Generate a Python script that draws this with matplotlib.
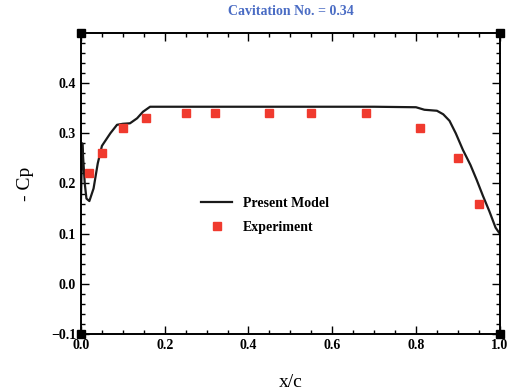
import matplotlib.pyplot as plt
from matplotlib.ticker import MultipleLocator

# Experiment points
exp_x = [0.02, 0.05, 0.10, 0.155, 0.25, 0.32, 0.45, 0.55, 0.68, 0.81, 0.90, 0.95]
exp_cp = [0.22, 0.26, 0.31, 0.33, 0.34, 0.34, 0.34, 0.34, 0.34, 0.31, 0.25, 0.16]

# Present model curve
model_x = [0.0, 0.003, 0.006, 0.009, 0.013, 0.02, 0.03, 0.04, 0.05, 0.07, 0.086,
           0.10, 0.117, 0.134, 0.148, 0.165, 0.30, 0.50, 0.70, 0.80, 0.82,
           0.85, 0.865, 0.88, 0.895, 0.912, 0.93, 0.945, 0.96, 0.975, 0.99, 1.0]
model_cp = [0.17, 0.28, 0.24, 0.20, 0.17, 0.165, 0.19, 0.24, 0.275, 0.30, 0.317,
            0.319, 0.32, 0.33, 0.343, 0.353, 0.353, 0.353, 0.353, 0.352, 0.347,
            0.345, 0.338, 0.325, 0.30, 0.267, 0.237, 0.207, 0.175, 0.145, 0.112, 0.10]

plt.rcParams["font.family"] = ["Liberation Serif", "DejaVu Serif"]
plt.rcParams["font.weight"] = "bold"

fig = plt.figure(figsize=(5.11, 3.91), dpi=100)
ax = fig.add_axes([0.1585, 0.1458, 0.8195, 0.7698])

ax.plot(model_x, model_cp, color="#1a1a1a", linewidth=1.6, label="Present Model")
ax.plot(exp_x, exp_cp, linestyle="none", marker="s", markersize=6,
        color="#f03a2e", label="Experiment")

ax.set_xlim(0.0, 1.0)
ax.set_ylim(-0.1, 0.5)
ax.set_xticks([0.0, 0.2, 0.4, 0.6, 0.8, 1.0])
ax.set_yticks([-0.1, 0.0, 0.1, 0.2, 0.3, 0.4])
ax.xaxis.set_minor_locator(MultipleLocator(0.05))
ax.yaxis.set_minor_locator(MultipleLocator(0.02))
ax.tick_params(which="both", direction="in", top=True, right=True,
               labelsize=10, width=1.0)
ax.tick_params(which="major", length=6)
ax.tick_params(which="minor", length=3)
for s in ax.spines.values():
    s.set_linewidth(1.4)

# black squares at the corners
for cx in (0.0, 1.0):
    for cy in (0.0, 1.0):
        ax.plot(cx, cy, marker="s", markersize=6, color="black",
                transform=ax.transAxes, clip_on=False)

ax.set_title("Cavitation No. = 0.34", fontsize=10, fontweight="bold",
             color="#4a6cc4", pad=13)
ax.set_xlabel("x/c", fontsize=14, fontweight="normal", labelpad=16)
ax.set_ylabel("- Cp", fontsize=14, fontweight="normal", labelpad=12)

ax.legend(loc="center", bbox_to_anchor=(0.44, 0.395), frameon=False,
          fontsize=10, handlelength=2.2, numpoints=1, labelspacing=0.8)

fig.savefig("out.png", dpi=100, facecolor="white")
